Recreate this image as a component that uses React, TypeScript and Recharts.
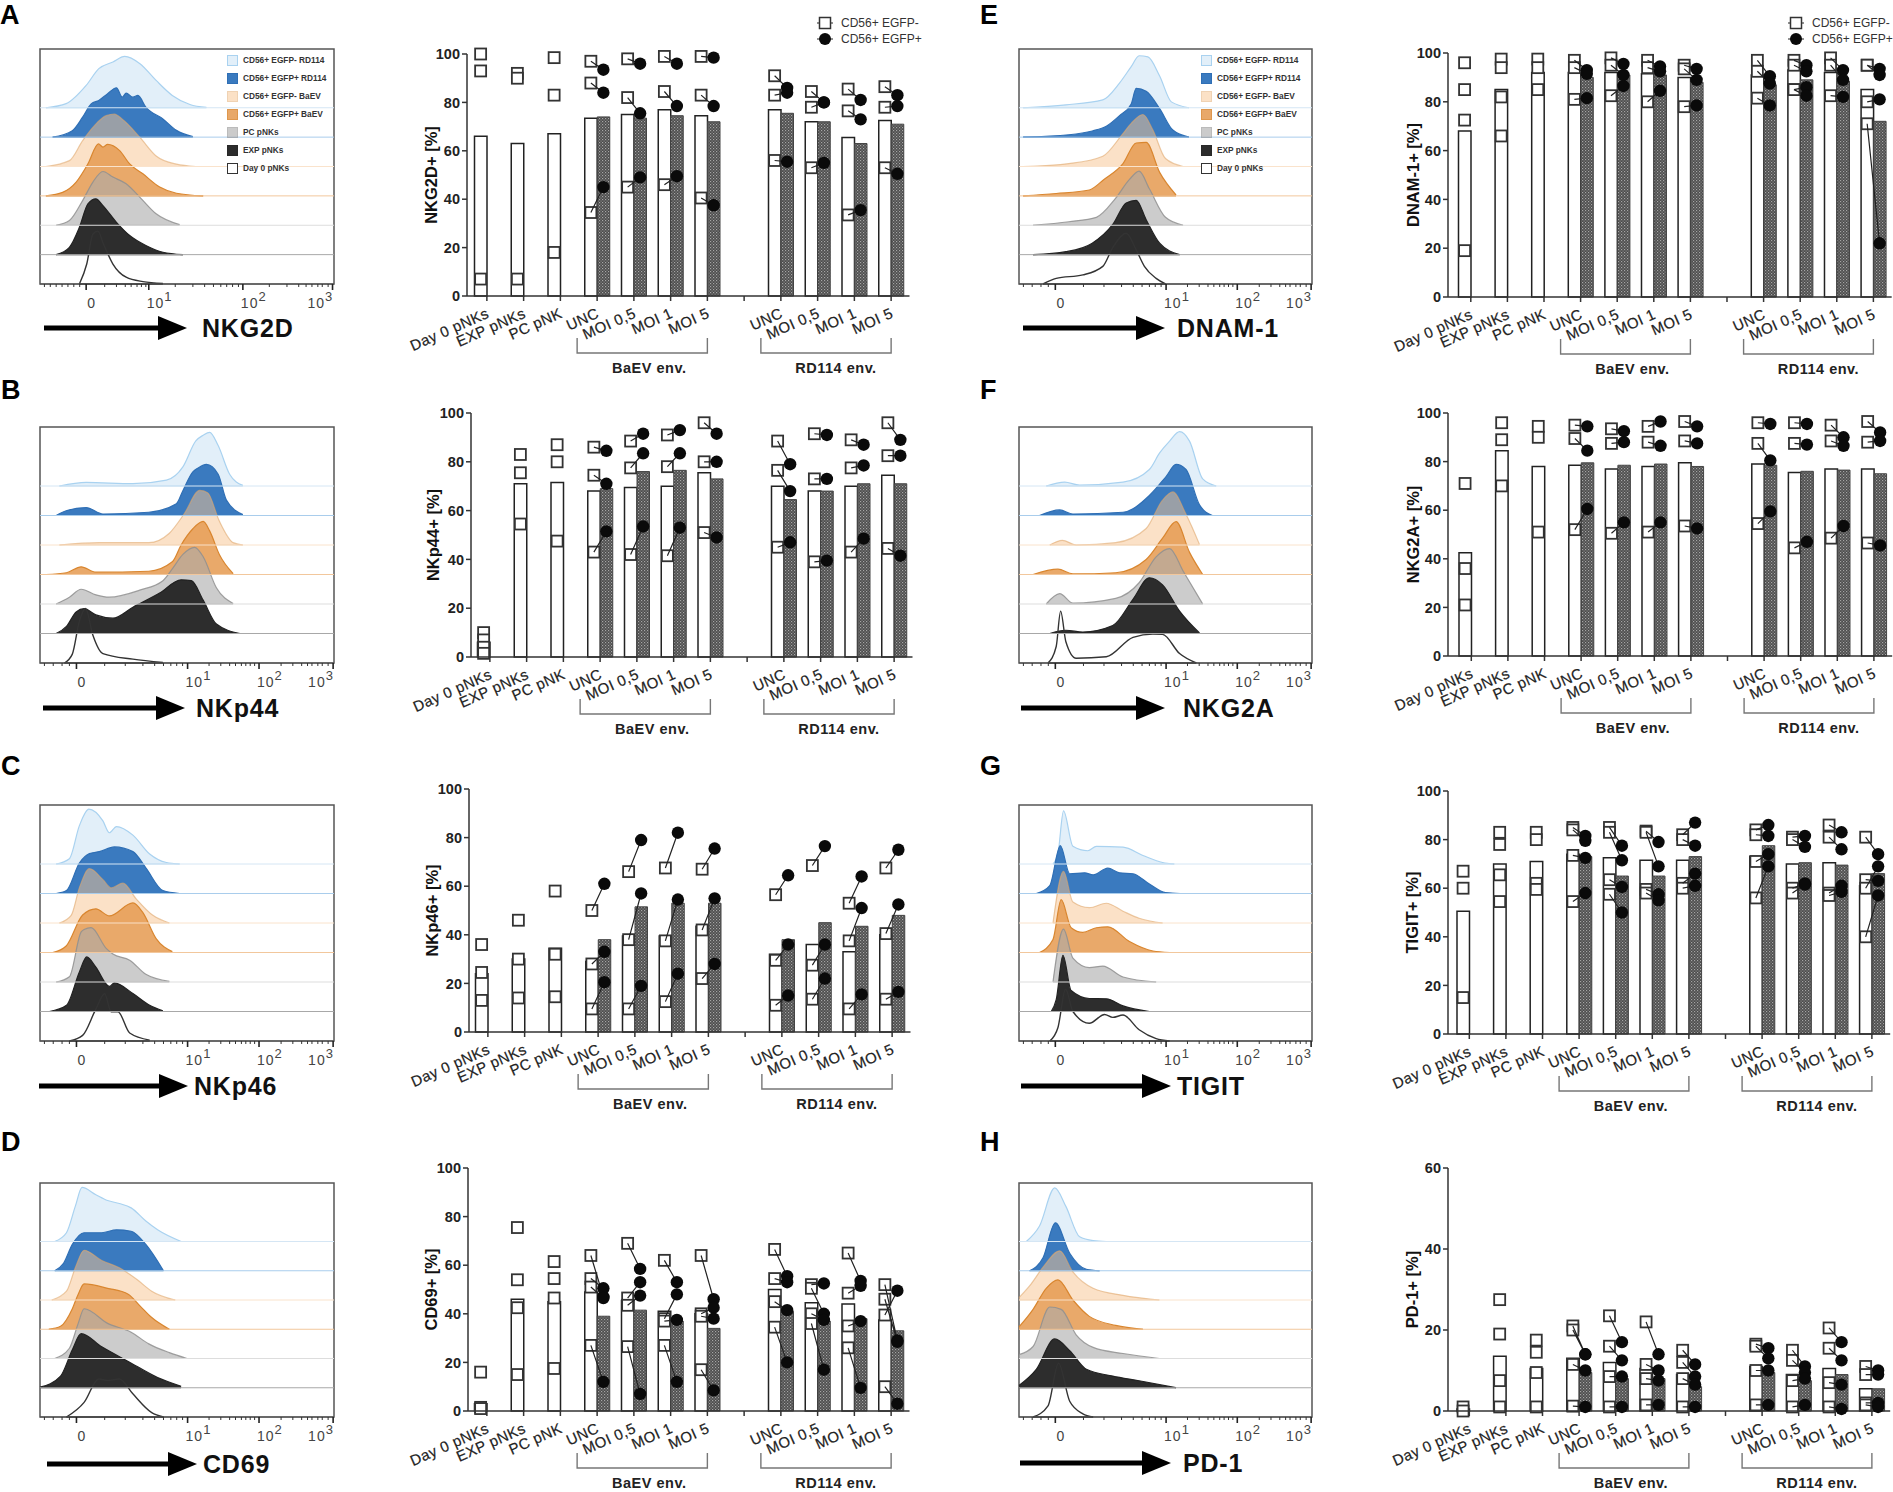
import React from "react";
import { Area, AreaChart, Bar, ComposedChart, Legend, Line, ReferenceLine, Scatter, XAxis, YAxis } from "recharts";

// ---- bar panels: shared labels ----
const categories = ["Day 0 pNKs", "EXP pNKs", "PC pNK", "UNC", "MOI 0,5", "MOI 1", "MOI 5", "", "UNC", "MOI 0,5", "MOI 1", "MOI 5"];
const percentTicks = [0, 20, 40, 60, 80, 100];
const pd1Ticks = [0, 20, 40, 60];
const donorNames = ["CD56+ EGFP-", "CD56+ EGFP+"];

// ---- bar panels: values (white = EGFP-, gray = EGFP+), neg[i] links to pos[i] ----
const nkg2dWhite = [66, 63, 67, 73.5, 75, 77, 74.5, null, 77, 72, 65.5, 72.5];
const nkg2dGray = [null, null, null, 74, 73.5, 74.5, 72, null, 75.5, 72, 63, 71];
const nkg2dNeg = [[100, 93, 7], [92, 90, 7], [98.5, 83, 18], [97, 88, 34.5], [98, 82, 45], [99, 84.5, 46], [99, 83, 40.5], [], [91, 83, 56], [84.5, 78, 53], [85.5, 76.5, 33.5], [86.5, 78, 53]];
const nkg2dPos = [[], [], [], [93.5, 84, 45], [96, 75.5, 49], [96, 78.5, 49.5], [98.5, 78.5, 37.5], [], [86, 84, 55.5], [80, 80, 55], [81, 73, 35.5], [83, 78.5, 50.5]];

const nkp44White = [6, 71, 71.5, 68, 69.5, 70, 75.5, null, 70, 68, 70, 74.5];
const nkp44Gray = [null, null, null, 69, 76, 76.5, 73, null, 64.5, 68, 71, 71];
const nkp44Neg = [[10, 7, 4, 1.5], [83, 75.5, 54.5], [87, 80, 47.5], [86, 74.5, 43], [88.5, 77.5, 42], [91, 78, 41.5], [96, 80, 51], [], [88.5, 76.5, 45], [91.5, 73, 39], [89, 77.5, 43], [96, 82.5, 44.5]];
const nkp44Pos = [[], [], [], [84.5, 71, 51.5], [91.5, 83.5, 53.5], [93, 83.5, 53], [91.5, 80, 49], [], [79, 68, 47], [91, 73, 39.5], [87, 78.5, 48.5], [89, 82.5, 41.5]];

const nkp46White = [24, 30, 34.5, 29, 39.5, 39.5, 43.5, null, 32, 36, 33, 40];
const nkp46Gray = [null, null, null, 38, 51.5, 53, 53, null, 38, 45, 43.5, 48];
const nkp46Neg = [[36, 24.5, 13], [46, 30, 14], [58, 32, 14.5], [50, 28, 9.5], [66, 38, 9.5], [67.5, 37.5, 12.5], [67, 42, 22], [], [56.5, 29.5, 11], [68.5, 27.5, 13.5], [53, 37.5, 9.5], [67.5, 40.5, 13.5]];
const nkp46Pos = [[], [], [], [61, 33, 20.5], [79, 57, 19], [82, 54.5, 24], [75.5, 55, 28], [], [64.5, 36, 15], [76.5, 36, 22], [64, 51, 15.5], [75, 52.5, 16.5]];

const cd69White = [3, 46, 45, 49, 45.5, 41, 40, null, 50, 44.5, 44, 37.5];
const cd69Gray = [null, null, null, 39, 41.5, 37, 34, null, 41, 37, 38, 33];
const cd69Neg = [[16, 1.5, 1], [75.5, 54, 42.5, 15], [61.5, 54.5, 46.5, 17.5], [64, 54.5, 51, 27], [69, 46.5, 43.5, 26.5], [62, 38, 37, 27], [64, 40, 39, 17], [], [66.5, 54.5, 45, 34.5], [52, 50.5, 40, 36], [65, 48.5, 35, 26], [52, 46, 39.5, 10]];
const cd69Pos = [[], [], [], [47, 50.5, 46.5, 12], [58.5, 53, 47.5, 7], [53, 48, 37.5, 12], [46, 42.5, 38, 8.5], [], [55.5, 53, 41.5, 20], [52.5, 40, 37.5, 17], [53.5, 51.5, 37, 9.5], [29, 28.5, 49.5, 3]];

const dnamWhite = [68, 85, 92, 92, 92, 91.5, 90, null, 91, 93, 92, 85];
const dnamGray = [null, null, null, 90, 91, 91, 88, null, 87, 89, 88.5, 72];
const dnamNeg = [[96, 85, 72.5, 19], [97.5, 94, 82, 66], [97.5, 94, 85], [97, 94, 81], [98, 95, 82.5], [97, 94, 80], [95, 93.5, 78], [], [97, 92.5, 81.5], [97, 95, 85, 85], [98, 95, 82.5], [95, 95, 80, 71]];
const dnamPos = [[], [], [], [93, 91.5, 81.5], [95.5, 91, 86.5], [94.5, 92.5, 84.5], [93.5, 89, 78.5], [], [90.5, 87.5, 78.5], [95, 92.5, 86, 82.5], [93, 89, 82], [93.5, 91, 81, 22]];

const nkg2aWhite = [42.5, 84.5, 78, 78.5, 77, 78, 79.5, null, 79, 75.5, 77, 77];
const nkg2aGray = [null, null, null, 79.5, 78.5, 79, 78, null, 78.5, 76, 76.5, 75];
const nkg2aNeg = [[71, 36, 21], [96, 89, 70], [94.5, 90, 51], [95, 89.5, 52], [93.5, 87.5, 50.5], [94.5, 88, 51], [96.5, 88.5, 53.5], [], [96, 87.5, 54.5], [96, 87.5, 44.5], [95, 88.5, 48.5], [96.5, 88, 46.5]];
const nkg2aPos = [[], [], [], [94.5, 84.5, 60.5], [92.5, 88, 55], [96.5, 86.5, 55], [94.5, 87.5, 52.5], [], [95.5, 80.5, 59.5], [95.5, 87, 47], [90, 86.5, 53.5], [92, 88.5, 45.5]];

const tigitWhite = [50.5, 70, 71, 74, 72.5, 71.5, 71.5, null, 73, 70, 70.5, 61];
const tigitGray = [null, null, null, 73, 65, 65, 73, null, 77.5, 70.5, 69.5, 66];
const tigitNeg = [[67, 60, 15], [83, 78, 65.5, 54.5], [83, 80, 62, 59.5], [85, 84, 73.5, 54.5], [85, 83, 63.5, 57.5], [83.5, 83, 59.5, 58], [82, 80, 62, 60], [], [84, 82, 71, 56], [81, 80, 60, 58], [86, 81, 58, 57], [81, 63.5, 60, 40]];
const tigitPos = [[], [], [], [81.5, 79.5, 72.5, 58], [77.5, 71.5, 60.5, 50], [79, 69, 57.5, 55], [87, 77.5, 66, 61], [], [86, 81.5, 74, 69], [81.5, 77, 62, 61.5], [83, 76, 61, 58.5], [74, 63, 69, 57]];

const pd1White = [0.5, 13.5, 10.5, 13, 12, 10.5, 9, null, 11, 9, 10.5, 5.5];
const pd1Gray = [null, null, null, 9.5, 8, 8, 6, null, 9.5, 7.5, 9, 5.5];
const pd1Neg = [[1, 0], [27.5, 19, 7.5, 1], [17.5, 14.5, 9.5, 1], [21, 20, 11.5, 1.2], [23.5, 16, 8.5, 1], [22, 11.5, 8, 1.5], [15, 12, 8, 1], [], [16.5, 16, 10, 1.5], [15, 12.5, 7.5, 1], [20.5, 15.5, 7, 1], [11, 9, 2, 1.5]];
const pd1Pos = [[], [], [], [14, 14, 10, 1], [17, 12.5, 8.5, 1], [14, 10, 7.5, 1.5], [11.5, 8.5, 6.5, 1], [], [15.5, 13, 10, 1.5], [11, 9.5, 8, 1.5], [17, 12.5, 6.5, 0.5], [10, 9, 2, 1]];

// ---- histograms ----
const ridgeNames = ["CD56+ EGFP- RD114", "CD56+ EGFP+ RD114", "CD56+ EGFP- BaEV", "CD56+ EGFP+ BaEV", "PC pNKs", "EXP pNKs", "Day 0 pNKs"];
const ridgeFill = ["#e2eff9", "#3a7abf", "#f8c48f", "#e59a50", "#aaaaaa", "#262626", "none"];
const ridgeOpacity = [1, 1, 0.5, 0.85, 0.6, 0.97, 0];
const ridgeStroke = ["#a9d2f0", "#2f6fb5", "#e0a66a", "#d9862f", "#8f8f8f", "#222222", "#333333"];
const ridgeStrokeOpacity = [1, 1, 0.6, 1, 0.85, 1, 1];
const ridgeGuide = ["#d5e6f4", "#a9cdec", "#fae3cc", "#f2c79c", "#dddddd", "#a8a8a8", "#555555"];

const stdMajors = [12.4, 50.2, 74.5, 99.7];
const stdMinors = [1.5, 4.5, 7.5, 10, 22, 29, 35, 39, 42, 44.5, 46.5, 48.5, 57.5, 61.5, 64.5, 66.5, 68.5, 70, 71.5, 73, 82, 86, 89, 91, 92.5, 94.5, 96, 98];
const nkg2dMajors = [15.7, 37, 69, 99.5];
const nkg2dMinors = [1.5, 3.5, 5.5, 7.5, 9.5, 11.5, 13.5, 22, 26, 29, 31, 33, 34.5, 36, 46, 52, 56, 59, 61.5, 63.5, 65.5, 67.5, 78, 84, 88, 90.5, 92.5, 94.5, 96, 98];

const nkg2dRidges = [
  [[2, 0], [8.9, 0.14], [15.7, 0.76], [20, 1.33], [24.8, 1.56], [28.8, 1.75], [34, 1.5], [39.5, 0.93], [45, 0.42], [51, 0.11], [56.6, 0.01]],
  [[4.3, 0], [11, 0.22], [14.5, 0.68], [17.4, 1.13], [20, 1.25], [23, 1.48], [26, 1.68], [28, 1.36], [29.3, 1.5], [31.6, 1.36], [33.3, 1.42], [36, 1.02], [41.8, 0.62], [46.4, 0.23], [52, 0.02]],
  [[2, 0], [10, 0.2], [14.5, 0.88], [18.5, 1.39], [22.5, 1.73], [25.3, 1.78], [28, 1.61], [34, 0.99], [39.5, 0.36], [46.4, 0.08], [53, 0]],
  [[2, 0], [7.7, 0.12], [12.3, 0.47], [16.3, 1.09], [19.9, 1.77], [21.4, 1.66], [23, 1.75], [27, 1.55], [30.5, 1.09], [35, 0.75], [40.7, 0.3], [46.4, 0.09], [55.5, 0]],
  [[5.5, 0], [10, 0.16], [14.5, 0.84], [18, 1.47], [21.4, 1.83], [24.8, 1.64], [29.3, 1.41], [34, 0.95], [39.5, 0.39], [47.5, 0.02]],
  [[5.5, 0], [10, 0.25], [13.4, 0.93], [16.3, 1.73], [19, 1.9], [21.4, 1.67], [26, 1.1], [30.5, 0.65], [36, 0.31], [41.8, 0.08], [48.6, 0]],
  [[13.4, 0], [15.9, 0.68], [18, 1.7], [19.7, 1.8], [21.6, 1.36], [24.8, 0.68], [29.3, 0.23], [35, 0.08], [41.8, 0.02]],
];
const nkp44Ridges = [
  [[6.6, 0], [15.7, 0.12], [31.6, 0.08], [43, 0.2], [48.6, 0.65], [53, 1.53], [55.5, 1.72], [57.7, 1.82], [60.6, 1.37], [64.5, 0.4], [69, 0.02]],
  [[5.5, 0], [8.9, 0.16], [15.7, 0.27], [21.4, 0.05], [37, 0.11], [46.4, 0.4], [48.6, 0.84], [52, 1.48], [53.8, 1.61], [56.6, 1.73], [60.6, 1.4], [63.4, 0.52], [69, 0.03]],
  [[6.6, 0], [20, 0.08], [37, 0.08], [44, 0.4], [49, 1.05], [54.3, 1.85], [57, 1.77], [61, 0.81], [65.7, 0.08], [69, 0]],
  [[2, 0], [9, 0.06], [14, 0.26], [19, 0.08], [37, 0.11], [45, 0.43], [48, 1], [52, 1.55], [55.5, 1.8], [57.7, 1.48], [61, 0.68], [65.7, 0.03]],
  [[5.5, 0], [10, 0.23], [14, 0.5], [19, 0.31], [23.6, 0.23], [33.9, 0.47], [41.8, 0.79], [45, 1.19], [48.6, 1.68], [52.6, 1.92], [55.5, 1.6], [60, 0.55], [65.7, 0.02]],
  [[5.5, 0], [9, 0.24], [12.3, 0.73], [15, 0.84], [19, 0.63], [24.8, 0.52], [31.6, 0.89], [40.7, 1.37], [48, 1.82], [51.5, 1.79], [55.5, 1.13], [60, 0.32], [68, 0]],
  [[8.3, 0], [11, 0.3], [13.4, 1.42], [15.5, 1.85], [18, 0.94], [21.4, 0.32], [31.6, 0.13], [41.8, 0.02]],
];
const nkp46Ridges = [
  [[5.5, 0], [10, 0.18], [13.4, 1.3], [16.6, 1.86], [21.4, 1.46], [23.6, 1.06], [26, 1.27], [31.6, 0.98], [37.3, 0.34], [43, 0.05], [47.5, 0]],
  [[5.5, 0], [9, 0.1], [13.4, 1.03], [16.8, 1.35], [20.2, 1.42], [25.3, 1.58], [31.6, 1.42], [36, 0.87], [41.8, 0.1], [47.5, 0]],
  [[6.6, 0], [10.6, 0.26], [13.4, 1.2], [16.8, 1.84], [21.4, 1.47], [24.2, 1.19], [28.2, 1.35], [32.7, 0.82], [38.4, 0.26], [44, 0]],
  [[4.3, 0], [8.9, 0.22], [14.5, 1.27], [19, 1.48], [23.6, 1.24], [31.6, 1.68], [35, 1.35], [39.5, 0.47], [45, 0.03]],
  [[5.5, 0], [10, 0.18], [14, 1.7], [15, 1.78], [17.4, 1.84], [22.5, 1.14], [24.8, 0.95], [30.5, 0.74], [36, 0.26], [44, 0.02]],
  [[3.2, 0], [9, 0.21], [13.4, 1.34], [15.9, 1.85], [19, 1.5], [23.6, 0.85], [25.3, 0.97], [31.6, 0.61], [37.3, 0.21], [41.8, 0.02]],
  [[10, 0], [14.5, 0.19], [19, 1.08], [22, 1.6], [24.2, 0.99], [26.5, 0.99], [30.5, 0.27], [37.3, 0.03]],
];
const cd69Ridges = [
  [[5, 0], [9, 0.3], [12, 1.2], [14.3, 1.85], [19, 1.6], [23, 1.4], [27, 1.3], [31, 1.15], [36, 0.7], [40, 0.4], [48, 0]],
  [[5, 0], [8, 0.25], [11, 0.9], [15, 1.3], [21, 1.3], [26, 1.4], [31, 1.35], [36, 0.9], [42, 0]],
  [[4, 0], [9, 0.3], [12, 1.1], [15, 1.7], [21, 1.35], [27, 1.1], [33, 0.7], [38, 0.3], [46, 0]],
  [[3, 0], [7, 0.1], [11, 0.7], [13, 1.2], [15, 1.55], [23, 1.4], [30, 1.2], [34, 0.8], [38, 0.4], [44, 0]],
  [[5, 0], [10, 0.35], [13, 1.2], [15, 1.7], [23, 1.2], [31, 0.9], [37, 0.5], [44, 0.2], [50, 0]],
  [[0, 0.02], [7, 0.4], [11, 1.3], [14, 1.85], [21, 1.4], [30, 0.9], [40, 0.35], [48, 0.05]],
  [[9, 0], [15, 0.5], [20, 1.3], [23, 1.25], [27, 1.3], [31.5, 0.8], [38, 0.15], [42, 0]],
];
const dnamRidges = [
  [[1.4, 0], [16, 0.1], [28.6, 0.27], [34.3, 0.84], [38.3, 1.4], [41, 1.77], [44, 1.73], [48, 1.08], [52, 0.2], [58, 0]],
  [[1.4, 0], [17, 0.08], [25, 0.21], [29.8, 0.37], [34.3, 0.73], [38.3, 1.13], [40, 1.66], [43.4, 1.56], [48, 0.97], [52.5, 0.24], [58, 0]],
  [[1.4, 0], [17, 0.1], [28.6, 0.35], [35, 1.06], [38.3, 1.47], [42.3, 1.77], [45.7, 1.24], [50, 0.27], [56, 0]],
  [[1.4, 0], [12.7, 0.08], [24, 0.2], [29, 0.56], [35.5, 1.1], [40, 1.8], [43.4, 1.82], [48, 0.8], [53.6, 0.03]],
  [[4.8, 0], [17, 0.12], [26.4, 0.27], [33, 0.92], [37.7, 1.56], [41, 1.84], [44.5, 1.24], [50, 0.27], [56, 0]],
  [[4.8, 0], [16, 0.1], [25, 0.39], [32, 1.03], [36.6, 1.76], [40, 1.85], [43.4, 1.19], [48, 0.39], [54.8, 0]],
  [[8.2, 0], [12.7, 0.19], [21.8, 0.31], [28.6, 0.6], [32, 1.24], [36.6, 1.73], [40, 1.16], [42.8, 0.6], [46.8, 0.19], [50, 0]],
];
const nkg2aRidges = [
  [[9.3, 0], [15.6, 0.13], [20.7, 0.03], [35.5, 0.13], [44.5, 0.56], [48, 1.12], [51.4, 1.52], [54.8, 1.84], [58.2, 1.52], [62.7, 0.24], [67.3, 0]],
  [[7, 0], [13.9, 0.19], [18.4, 0.05], [35.5, 0.11], [44.5, 0.68], [50.2, 1.32], [53.6, 1.73], [57, 1.56], [61.6, 0.36], [66, 0]],
  [[10.5, 0], [14.8, 0.16], [19.5, 0], [33, 0.08], [43.4, 0.56], [49, 1.52], [52.5, 1.8], [57, 1.04], [61.6, 0.02]],
  [[4.8, 0], [13.3, 0.18], [18.4, 0.02], [33, 0.06], [43.4, 0.51], [49, 1.23], [53.6, 1.79], [58.2, 0.75], [62.7, 0]],
  [[9.3, 0], [13.9, 0.35], [18.4, 0.03], [33, 0.19], [41, 0.72], [46.8, 1.6], [51.4, 1.88], [56, 1.12], [62.7, 0]],
  [[10.5, 0], [16, 0.11], [21.8, 0.05], [32, 0.27], [38.9, 1.16], [44.5, 1.89], [49, 1.65], [54.8, 0.76], [61.6, 0.02]],
  [[9.9, 0], [12.7, 0.56], [14.2, 1.76], [16, 0.72], [19.5, 0.16], [29.8, 0.21], [38.9, 0.87], [45.7, 0.98], [49, 0.97], [54.8, 0.32], [60.5, 0]],
];
const tigitRidges = [
  [[11.6, 0], [13.3, 0.36], [15.2, 1.8], [18.4, 0.6], [23.5, 0.45], [26.4, 0.6], [35.5, 0.57], [42.3, 0.29], [49, 0.05], [53, 0]],
  [[5.9, 0], [10.5, 0.27], [14.1, 1.62], [17.3, 0.67], [22.4, 0.7], [25.3, 0.63], [30.3, 0.86], [34.3, 0.7], [38.9, 0.67], [44.5, 0.32], [50, 0.03], [55, 0]],
  [[11.6, 0], [15.2, 1.75], [18.4, 0.71], [24, 0.52], [29.8, 0.67], [35.5, 0.4], [41, 0.16], [49, 0]],
  [[7, 0], [11.6, 0.44], [14.4, 1.79], [17.8, 0.84], [21.8, 0.68], [26.4, 0.84], [30.3, 0.87], [37.7, 0.37], [45.7, 0.05], [51.4, 0]],
  [[11.6, 0], [15.2, 1.79], [18.4, 0.81], [24, 0.49], [28.6, 0.54], [35.5, 0.17], [46.8, 0]],
  [[11, 0], [12.7, 0.4], [15, 1.9], [17.8, 0.71], [24, 0.44], [29.8, 0.43], [35.5, 0.19], [44.5, 0]],
  [[10.5, 0], [13.3, 0.46], [15.9, 1.76], [18.4, 1], [24, 0.6], [29.2, 0.9], [32, 0.8], [35.5, 0.88], [41, 0.38], [46.8, 0.08], [51.4, 0]],
];
const pd1Ridges = [
  [[2.5, 0], [7, 0.53], [12.2, 1.83], [16, 1.2], [20.7, 0.16], [25.3, 0.03], [29.8, 0]],
  [[3.6, 0], [8.2, 0.44], [12.4, 1.64], [17.3, 0.6], [23, 0.05], [27.5, 0]],
  [[0, 0.08], [3.6, 0.48], [8.2, 1.12], [13.9, 1.68], [18.4, 0.96], [25.3, 0.4], [35.5, 0.16], [47.9, 0]],
  [[0, 0.08], [4.8, 0.68], [9.3, 1.4], [13.3, 1.69], [18.4, 1], [24, 0.44], [33, 0.13], [42.3, 0]],
  [[0, 0.13], [4.8, 0.41], [10.5, 1.76], [14.4, 1.68], [19.5, 0.81], [25.3, 0.38], [35.5, 0.17], [47.9, 0]],
  [[0, 0.08], [5.9, 0.63], [12.2, 1.67], [17.3, 1.27], [23, 0.63], [32, 0.4], [41, 0.24], [53.6, 0]],
  [[4.8, 0], [9.9, 0.38], [13.5, 1.84], [17.3, 0.54], [21.8, 0.11], [25.3, 0]],
];

// ---- layout of the eight rows (reference pixels) ----
const FONT = "'Liberation Sans', Arial, sans-serif";
const SLOT_OFFSET = 0.17; // marker centre relative to the tick, in category slots

const histPanels = [
  { name: "NKG2D", x: 40, y: 49, w: 294, h: 235, ridges: nkg2dRidges, majors: nkg2dMajors, minors: nkg2dMinors, legend: true, arrowX: 44, arrowEnd: 187, arrowY: 328, labelX: 202 },
  { name: "NKp44", x: 40, y: 427, w: 294, h: 236, ridges: nkp44Ridges, majors: stdMajors, minors: stdMinors, arrowX: 43, arrowEnd: 185, arrowY: 708, labelX: 196 },
  { name: "NKp46", x: 40, y: 805, w: 294, h: 236, ridges: nkp46Ridges, majors: stdMajors, minors: stdMinors, arrowX: 39, arrowEnd: 188, arrowY: 1086, labelX: 194 },
  { name: "CD69", x: 40, y: 1183, w: 294, h: 234, ridges: cd69Ridges, majors: stdMajors, minors: stdMinors, arrowX: 47, arrowEnd: 197, arrowY: 1464, labelX: 203 },
  { name: "DNAM-1", x: 1019, y: 49, w: 293, h: 235, ridges: dnamRidges, majors: stdMajors, minors: stdMinors, legend: true, arrowX: 1023, arrowEnd: 1165, arrowY: 328, labelX: 1177 },
  { name: "NKG2A", x: 1019, y: 427, w: 293, h: 236, ridges: nkg2aRidges, majors: stdMajors, minors: stdMinors, arrowX: 1021, arrowEnd: 1165, arrowY: 708, labelX: 1183 },
  { name: "TIGIT", x: 1019, y: 805, w: 293, h: 236, ridges: tigitRidges, majors: stdMajors, minors: stdMinors, arrowX: 1021, arrowEnd: 1171, arrowY: 1086, labelX: 1177 },
  { name: "PD-1", x: 1019, y: 1183, w: 293, h: 234, ridges: pd1Ridges, majors: stdMajors, minors: stdMinors, arrowX: 1020, arrowEnd: 1171, arrowY: 1463, labelX: 1183 },
];

const barPanels = [
  { title: "NKG2D+ [%]", left: 467, bandStart: 468.5, top: 54, bottom: 296, slot: 36.75, labelX: 431, white: nkg2dWhite, gray: nkg2dGray, neg: nkg2dNeg, pos: nkg2dPos, max: 100, ticks: percentTicks, legendAt: [816, 15] },
  { title: "NKp44+ [%]", left: 471, bandStart: 471.5, top: 413, bottom: 657, slot: 36.75, labelX: 433, white: nkp44White, gray: nkp44Gray, neg: nkp44Neg, pos: nkp44Pos, max: 100, ticks: percentTicks },
  { title: "NKp46+ [%]", left: 469, bandStart: 469.5, top: 789, bottom: 1032, slot: 36.75, labelX: 432, white: nkp46White, gray: nkp46Gray, neg: nkp46Neg, pos: nkp46Pos, max: 100, ticks: percentTicks },
  { title: "CD69+ [%]", left: 468, bandStart: 468.5, top: 1168, bottom: 1411, slot: 36.75, labelX: 431, white: cd69White, gray: cd69Gray, neg: cd69Neg, pos: cd69Pos, max: 100, ticks: percentTicks },
  { title: "DNAM-1+ [%]", left: 1448, bandStart: 1452.5, top: 53, bottom: 297, slot: 36.6, labelX: 1413, white: dnamWhite, gray: dnamGray, neg: dnamNeg, pos: dnamPos, max: 100, ticks: percentTicks, legendAt: [1787, 15] },
  { title: "NKG2A+ [%]", left: 1448, bandStart: 1453, top: 413, bottom: 656, slot: 36.6, labelX: 1413, white: nkg2aWhite, gray: nkg2aGray, neg: nkg2aNeg, pos: nkg2aPos, max: 100, ticks: percentTicks },
  { title: "TIGIT+ [%]", left: 1448, bandStart: 1451, top: 791, bottom: 1034, slot: 36.6, labelX: 1412, white: tigitWhite, gray: tigitGray, neg: tigitNeg, pos: tigitPos, max: 100, ticks: percentTicks },
  { title: "PD-1+ [%]", left: 1448, bandStart: 1451, top: 1168, bottom: 1411, slot: 36.6, labelX: 1412, white: pd1White, gray: pd1Gray, neg: pd1Neg, pos: pd1Pos, max: 60, ticks: pd1Ticks },
];

const letters = [
  ["A", 0, 0], ["B", 1, 375], ["C", 1, 751], ["D", 1, 1127],
  ["E", 980, 0], ["F", 980, 375], ["G", 980, 751], ["H", 980, 1127],
];

const HistTick = ({ x, y, payload, majors }: any) => {
  const idx = majors.indexOf(payload.value);
  if (idx < 0) return <line x1={x} x2={x} y1={y} y2={y + 3} stroke="#333" strokeWidth={1} />;
  return (
    <g>
      <line x1={x} x2={x} y1={y} y2={y + 6} stroke="#222" strokeWidth={1.6} />
      {idx === 0 ? (
        <text x={x + 5} y={y + 24} textAnchor="middle" fontSize={14} fill="#444" fontFamily={FONT}>0</text>
      ) : (
        <text x={x + (idx === 3 ? -25 : -2)} y={y + 24} fontSize={14} fill="#444" fontFamily={FONT} letterSpacing={1}>
          10<tspan dy={-7} fontSize={13}>{idx}</tspan>
        </text>
      )}
    </g>
  );
};

const ridgeLegend = () => (
  <div style={{ fontFamily: FONT, fontSize: 8.3, fontWeight: 700, color: "#333" }}>
    {ridgeNames.map((name, i) => (
      <div key={name} style={{ display: "flex", alignItems: "center", height: 18, whiteSpace: "nowrap" }}>
        <span style={{ display: "inline-block", boxSizing: "border-box", width: 11, height: 11, marginRight: 5, background: i === 6 ? "#fff" : ridgeFill[i], opacity: ridgeOpacity[i] || 1, border: `1px solid ${ridgeStroke[i]}` }} />
        {name}
      </div>
    ))}
  </div>
);

const HistPanel = ({ p }: any) => {
  const headStart = p.arrowEnd - 29;
  return (
    <div style={{ position: "absolute", left: p.x - 2, top: p.y - 2 }}>
      <AreaChart width={p.w + 8} height={p.h + 67} margin={{ top: 2, right: 6, bottom: 0, left: 2 }}>
        <XAxis
          type="number"
          dataKey="x"
          domain={[0, 100]}
          ticks={[...p.minors, ...p.majors]}
          interval={0}
          height={65}
          axisLine={false}
          tickLine={false}
          tickSize={0}
          tickMargin={0}
          tick={(t: any) => <HistTick {...t} majors={p.majors} />}
        />
        <YAxis hide domain={[0, 8]} />
        {p.ridges.map((pts: number[][], i: number) => (
          <ReferenceLine key={`g${i}`} y={6 - i} stroke={ridgeGuide[i]} strokeWidth={1} />
        ))}
        {p.ridges.map((pts: number[][], i: number) => (
          <Area
            key={ridgeNames[i]}
            name={ridgeNames[i]}
            data={pts.map(([x, h]) => ({ x, low: 6 - i, high: 6 - i + h }))}
            dataKey={(d: any) => [d.low, d.high]}
            type="monotone"
            fill={ridgeFill[i]}
            fillOpacity={ridgeOpacity[i]}
            stroke={ridgeStroke[i]}
            strokeOpacity={ridgeStrokeOpacity[i]}
            strokeWidth={i === 6 ? 1.4 : 1.2}
            dot={false}
            activeDot={false}
            isAnimationActive={false}
          />
        ))}
        {p.legend ? (
          <Legend
            layout="horizontal"
            verticalAlign="middle"
            content={ridgeLegend}
            wrapperStyle={{ position: "absolute", left: p.name === "DNAM-1" ? 184 : 189, top: 4, width: 120 }}
          />
        ) : null}
        <rect x={2} y={2} width={p.w} height={p.h} fill="none" stroke="#555" strokeWidth={1.5} />
        <rect x={p.arrowX - p.x + 2} y={p.arrowY - p.y - 0.5} width={headStart - p.arrowX} height={5} fill="#000" />
        <polygon
          points={`${headStart - p.x + 2},${p.arrowY - p.y - 10} ${p.arrowEnd - p.x + 2},${p.arrowY - p.y + 2} ${headStart - p.x + 2},${p.arrowY - p.y + 14}`}
          fill="#000"
        />
        <text x={p.labelX - p.x + 2} y={p.arrowY - p.y + 11} fontFamily={FONT} fontWeight={700} fontSize={25} letterSpacing={0.8} fill="#111">{p.name}</text>
      </AreaChart>
    </div>
  );
};

const NegMarker = ({ cx, cy }: any) => <rect x={cx - 5.5} y={cy - 5.5} width={11} height={11} fill="#fff" stroke="#333" strokeWidth={1.8} />;
const PosMarker = ({ cx, cy }: any) => <circle cx={cx} cy={cy} r={6.2} fill="#0a0a0a" />;

const CategoryTick = ({ x, y, payload }: any) => (
  <text
    transform={`translate(${x + 3},${y + 16}) rotate(-24)`}
    textAnchor="end"
    fontFamily={FONT}
    fontSize={15}
    letterSpacing={0.4}
    fill="#222"
    stroke="#222"
    strokeWidth={0.2}
  >
    {payload.value}
  </text>
);

const donorLegend = () => (
  <div style={{ fontFamily: FONT, fontSize: 12, color: "#333" }}>
    {donorNames.map((name, i) => (
      <div key={name} style={{ display: "flex", alignItems: "center", height: 16, whiteSpace: "nowrap" }}>
        <svg width={18} height={14} style={{ marginRight: 7 }}>
          <line x1={1} x2={17} y1={7} y2={7} stroke="#222" />
          {i === 0 ? <rect x={3.5} y={1.5} width={11} height={11} fill="#fff" stroke="#333" strokeWidth={1.5} /> : <circle cx={9} cy={7} r={6} fill="#0a0a0a" />}
        </svg>
        {name}
      </div>
    ))}
  </div>
);

const BarPanel = ({ p, id }: any) => {
  const rows = categories.map((name, i) => ({ name: `${name}`, white: p.white[i], gray: p.gray[i] }));
  const negRows = p.neg.flatMap((vals: number[], i: number) => vals.map((y) => ({ x: i + 0.5 - SLOT_OFFSET, y })));
  const posRows = p.pos.flatMap((vals: number[], i: number) => vals.map((y) => ({ x: i + 0.5 + SLOT_OFFSET, y })));
  const linkRows = p.pos.flatMap((vals: number[], i: number) =>
    vals.flatMap((y, k) => [
      { x: i + 0.5 - SLOT_OFFSET, y: p.neg[i][k] },
      { x: i + 0.5 + SLOT_OFFSET, y },
      { x: i + 0.5 + SLOT_OFFSET, y: null },
    ]),
  );

  const yWidth = 2 * (p.left - p.labelX);
  const topPad = 50;
  const padLeft = p.bandStart - p.left;
  const plotW = padLeft + 12 * p.slot;
  const axisY = topPad + (p.bottom - p.top);
  const tickAt = (i: number) => yWidth + padLeft + (i + 0.5) * p.slot;

  const bracket = (from: number, to: number, label: string, nudge: number) => (
    <g key={label}>
      <polyline
        points={`${tickAt(from) - 20},${axisY + 42} ${tickAt(from) - 20},${axisY + 57} ${tickAt(to)},${axisY + 57} ${tickAt(to)},${axisY + 42}`}
        fill="none"
        stroke="#777"
        strokeWidth={1.4}
      />
      <text x={(tickAt(from) + tickAt(to)) / 2 + nudge} y={axisY + 77} textAnchor="middle" fontFamily={FONT} fontWeight={700} fontSize={14.5} letterSpacing={0.5} fill="#222">{label}</text>
    </g>
  );

  return (
    <div style={{ position: "absolute", left: p.left - yWidth, top: p.top - topPad }}>
      <ComposedChart
        width={yWidth + plotW + 1}
        height={topPad + (p.bottom - p.top) + 90}
        data={rows}
        barSize={12.5}
        barGap={0}
        margin={{ top: topPad, right: 1, bottom: 0, left: 0 }}
      >
        <defs>
          <pattern id={id} width={3} height={3} patternUnits="userSpaceOnUse">
            <rect width={3} height={3} fill="#4c4c4c" />
            <rect width={1.2} height={1.2} fill="#a6a6a6" />
            <rect x={1.5} y={1.5} width={1.2} height={1.2} fill="#8a8a8a" />
          </pattern>
        </defs>
        <XAxis
          dataKey="name"
          interval={0}
          height={90}
          padding={{ left: padLeft, right: 0 }}
          stroke="#333"
          strokeWidth={1.5}
          tickSize={5}
          tickMargin={0}
          tick={(t: any) => <CategoryTick {...t} />}
        />
        <XAxis xAxisId="pts" type="number" dataKey="x" domain={[0, 12]} hide height={90} padding={{ left: padLeft, right: 0 }} />
        <YAxis
          width={yWidth}
          domain={[0, p.max]}
          ticks={p.ticks}
          interval={0}
          stroke="#333"
          strokeWidth={1.5}
          tickSize={5}
          tick={{ fontFamily: FONT, fontWeight: 700, fontSize: 14.5, fill: "#222" }}
          label={{ value: p.title, angle: -90, position: "center", style: { fontFamily: FONT, fontWeight: 700, fontSize: 16.5, fill: "#111" } }}
        />
        <Bar dataKey="white" fill="#fff" stroke="#222" strokeWidth={1.5} isAnimationActive={false} />
        <Bar dataKey="gray" fill={`url(#${id})`} stroke="#444" strokeWidth={1} isAnimationActive={false} />
        <Scatter xAxisId="pts" data={negRows} dataKey="y" shape={NegMarker} zIndex={350} isAnimationActive={false} />
        <Line xAxisId="pts" data={linkRows} dataKey="y" type="linear" stroke="#222" strokeWidth={1.2} dot={false} activeDot={false} connectNulls={false} isAnimationActive={false} />
        <Scatter xAxisId="pts" data={posRows} dataKey="y" shape={PosMarker} isAnimationActive={false} />
        {p.legendAt ? (
          <Legend
            layout="horizontal"
            verticalAlign="middle"
            content={donorLegend}
            wrapperStyle={{ position: "absolute", left: p.legendAt[0] - (p.left - yWidth), top: p.legendAt[1] - (p.top - topPad), width: 130 }}
          />
        ) : null}
        {bracket(3, 6, "BaEV env.", -3)}
        {bracket(8, 11, "RD114 env.", 0)}
      </ComposedChart>
    </div>
  );
};

export default function App() {
  return (
    <div style={{ position: "absolute", left: 0, top: 0, width: 1893, height: 1492, background: "#fff", overflow: "hidden" }}>
      {letters.map(([t, x, y]) => (
        <div key={t as string} style={{ position: "absolute", left: x as number, top: y as number, fontFamily: FONT, fontWeight: 700, fontSize: 27, lineHeight: "31px", color: "#000" }}>{t}</div>
      ))}
      {histPanels.map((p) => <HistPanel key={p.name} p={p} />)}
      {barPanels.map((p, i) => <BarPanel key={p.title} p={p} id={`dither${i}`} />)}
    </div>
  );
}
